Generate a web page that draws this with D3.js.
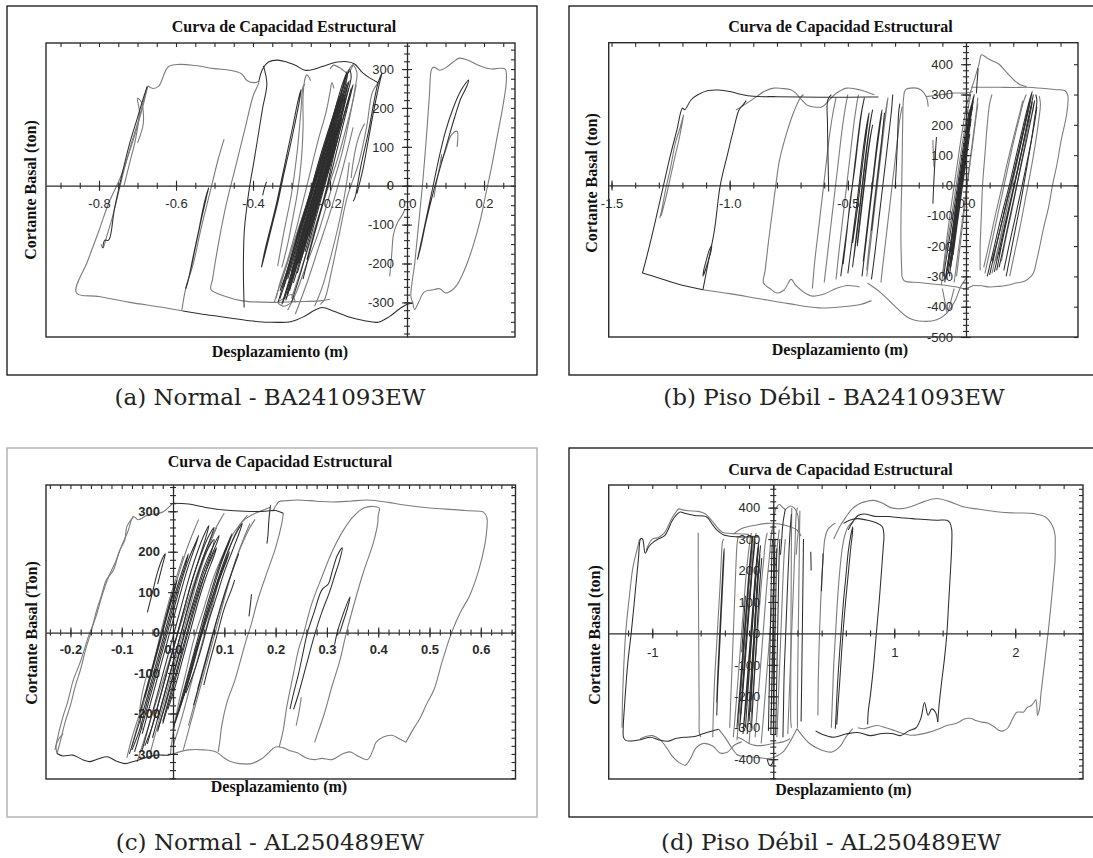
<!DOCTYPE html>
<html><head><meta charset="utf-8">
<script src="https://cdn.jsdelivr.net/npm/d3@7"></script>
<style>body{margin:0;background:#fff}svg{display:block}</style>
</head><body>
<svg id="c" width="1093" height="858"></svg>
<script>
// ---------------- text ----------------
const chartTitle = "Curva de Capacidad Estructural";
const xTitle = "Desplazamiento (m)";
const captions = ["(a) Normal - BA241093EW","(b) Piso Débil - BA241093EW","(c) Normal - AL250489EW","(d) Piso Débil - AL250489EW"];
const yTitles = ["Cortante Basal (ton)","Cortante Basal (ton)","Cortante Basal (Ton)","Cortante Basal (ton)"];

// ---------------- ticks ----------------
const aXMajor = [-0.8,-0.6,-0.4,-0.2,0,0.2];
const aXLabels = ["-0.8","-0.6","-0.4","-0.2","0.0","0.2"];
const aYMajor = [-300,-200,-100,0,100,200,300];
const aYLabels = ["-300","-200","-100","0","100","200","300"];
const bXMajor = [-1.5,-1.0,-0.5,0];
const bXLabels = ["-1.5","-1.0","-0.5","0.0"];
const bYMajor = [-500,-400,-300,-200,-100,0,100,200,300,400];
const bYLabels = ["-500","-400","-300","-200","-100","0","100","200","300","400"];
const cXMajor = [-0.2,-0.1,0,0.1,0.2,0.3,0.4,0.5,0.6];
const cXLabels = ["-0.2","-0.1","0.0","0.1","0.2","0.3","0.4","0.5","0.6"];
const cYMajor = [-300,-200,-100,0,100,200,300];
const cYLabels = ["-300","-200","-100","0","100","200","300"];
const dXMajor = [-1,1,2];
const dXLabels = ["-1","1","2"];
const dYMajor = [-400,-300,-200,-100,0,100,200,300,400];
const dYLabels = ["-400","-300","-200","-100","0","100","200","300","400"];

// ---------------- series: panel (a) ----------------
const aGray = [
 [[-0.673,257],[-0.69,190],[-0.715,105],[-0.745,20],[-0.775,-45],[-0.80,-115],[-0.83,-195],[-0.859,-275],[-0.80,-285],[-0.72,-300],[-0.64,-312],[-0.582,-322]],
 [[-0.673,257],[-0.66,250],[-0.645,256],[-0.62,306],[-0.59,312],[-0.55,309],[-0.50,301],[-0.46,297],[-0.43,288],[-0.415,270],[-0.395,265],[-0.385,268],[-0.40,230],[-0.42,150],[-0.445,50],[-0.47,-50],[-0.49,-150],[-0.505,-240],[-0.509,-267],[-0.473,-284],[-0.427,-296],[-0.355,-300],[-0.29,-298],[-0.227,-296],[-0.2,-292]],
 [[-0.075,265],[-0.09,240],[-0.105,150],[-0.125,60],[-0.155,-28],[-0.175,-120],[-0.195,-215],[-0.214,-292],[-0.225,-305]],
 [[-0.585,-322],[-0.575,-265],[-0.555,-200],[-0.535,-110],[-0.515,-30],[-0.505,10],[-0.49,70],[-0.475,120]],
 [[-0.675,255],[-0.685,215],[-0.70,160],[-0.72,95],[-0.735,40],[-0.75,-20],[-0.765,-80],[-0.78,-130],[-0.79,-160],[-0.795,-150]],
 [[-0.735,0],[-0.72,60],[-0.705,120],[-0.695,190],[-0.70,225],[-0.69,215],[-0.685,160],[-0.70,110]],
 [[-0.34,-290],[-0.33,-250],[-0.31,-190],[-0.29,-120],[-0.27,-40],[-0.25,40],[-0.23,120],[-0.21,190],[-0.2,240],[-0.195,265],[-0.19,250]],
 [[-0.325,-210],[-0.31,-150],[-0.3,-100],[-0.285,-20],[-0.275,60],[-0.27,150],[-0.27,230],[-0.265,275],[-0.26,285],[-0.25,270]],
 [[-0.31,-320],[-0.29,-280],[-0.26,-200],[-0.23,-120],[-0.2,-20],[-0.17,80],[-0.15,170],[-0.135,250],[-0.13,290],[-0.14,310],[-0.15,300]],
 [[-0.24,-310],[-0.22,-260],[-0.2,-190],[-0.18,-110],[-0.165,-40],[-0.155,20],[-0.15,60]],
 [[-0.29,-300],[-0.3,-280],[-0.32,-290],[-0.335,-300],[-0.32,-310],[-0.3,-300]],
 [[-0.2,300],[-0.19,310],[-0.17,300],[-0.155,290],[-0.145,300],[-0.14,313]],
 [[-0.336,-207],[-0.32,-120],[-0.30,-20],[-0.285,90],[-0.275,200],[-0.27,255],[-0.265,262]],
 [[-0.33,-260],[-0.3,-165],[-0.27,-75],[-0.24,15],[-0.21,105],[-0.18,195],[-0.16,260],[-0.155,285]],
 [[-0.3,-290],[-0.27,-200],[-0.24,-110],[-0.21,-20],[-0.18,70],[-0.155,160],[-0.14,220],[-0.132,260]],
 [[-0.345,-300],[-0.32,-225],[-0.29,-135],[-0.26,-45],[-0.235,40],[-0.21,120],[-0.19,185],[-0.18,220]],
 [[-0.29,-330],[-0.26,-250],[-0.23,-160],[-0.2,-70],[-0.175,15],[-0.155,90],[-0.14,150]],
 [[-0.045,-233],[-0.04,-180],[-0.035,-125],[-0.025,-95],[-0.012,-75],[-0.005,-60]],
 [[0.015,-300],[0.01,-285],[0.02,-200],[0.03,-100],[0.04,0],[0.05,120],[0.058,230],[0.064,300],[0.07,305],[0.085,297],[0.1,303],[0.12,318],[0.136,328],[0.16,322],[0.19,308],[0.22,300],[0.24,302],[0.255,300],[0.258,270],[0.25,210],[0.235,130],[0.22,50],[0.205,-20],[0.19,-90],[0.17,-160],[0.15,-215],[0.13,-255],[0.115,-270],[0.10,-276],[0.085,-265],[0.065,-268],[0.045,-273],[0.03,-300],[0.02,-318],[0.015,-300]],
 [[0.07,-30],[0.075,0],[0.085,50],[0.09,80],[0.088,60],[0.1,90],[0.115,130],[0.13,140],[0.13,100]],
 [[-0.145,20],[-0.14,60],[-0.13,110],[-0.12,140],[-0.11,160]]
];
const aDark = [
 [[-0.582,-322],[-0.52,-332],[-0.46,-340],[-0.41,-347],[-0.36,-351],[-0.30,-349],[-0.265,-335],[-0.24,-320],[-0.22,-313],[-0.19,-323],[-0.155,-336],[-0.11,-347],[-0.075,-351],[-0.045,-336],[-0.02,-317],[0.0,-305],[0.015,-302]],
 [[-0.385,268],[-0.375,300],[-0.36,318],[-0.336,323],[-0.31,317],[-0.29,310],[-0.265,297],[-0.24,300],[-0.21,310],[-0.18,318],[-0.155,319],[-0.136,313],[-0.115,290],[-0.095,276],[-0.075,265]],
 [[-0.373,308],[-0.364,262],[-0.375,200],[-0.386,133],[-0.398,60],[-0.409,-3],[-0.418,-70],[-0.423,-122],[-0.425,-220],[-0.423,-313]],
 [[-0.79,-160],[-0.785,-140],[-0.775,-140],[-0.76,-60],[-0.74,30],[-0.72,110],[-0.70,175],[-0.685,225],[-0.675,255]],
 [[-0.575,-265],[-0.57,-250],[-0.555,-180],[-0.54,-110],[-0.53,-60],[-0.52,-20],[-0.515,-5],[-0.52,-25],[-0.535,-90],[-0.55,-160],[-0.565,-230],[-0.575,-265]],
 [[-0.378,-210],[-0.37,-170],[-0.355,-110],[-0.34,-50],[-0.325,20],[-0.31,90],[-0.295,160],[-0.285,210],[-0.275,248],[-0.28,215],[-0.29,165],[-0.305,95],[-0.32,30],[-0.335,-40],[-0.35,-100],[-0.365,-160],[-0.378,-210]],
 [[-0.375,-25],[-0.37,-5],[-0.365,10]],
 [[-0.335,-300],[-0.3,-185],[-0.265,-70],[-0.23,45],[-0.195,160],[-0.165,260],[-0.155,295],[-0.17,255],[-0.2,150],[-0.235,35],[-0.27,-80],[-0.305,-195],[-0.33,-285]],
 [[-0.325,-305],[-0.29,-190],[-0.255,-75],[-0.22,40],[-0.19,140],[-0.17,210],[-0.165,235],[-0.18,195],[-0.21,100],[-0.245,-15],[-0.28,-130],[-0.31,-230]],
 [[-0.31,-280],[-0.28,-180],[-0.25,-80],[-0.22,20],[-0.19,120],[-0.16,220],[-0.145,280],[-0.15,300],[-0.16,260],[-0.185,170],[-0.215,70],[-0.245,-30],[-0.275,-130],[-0.3,-220]],
 [[-0.3,-240],[-0.27,-145],[-0.24,-45],[-0.21,55],[-0.185,140],[-0.175,170],[-0.19,130],[-0.22,35],[-0.25,-60],[-0.28,-160]],
 [[-0.29,-200],[-0.265,-120],[-0.235,-20],[-0.205,80],[-0.18,170],[-0.165,230],[-0.175,205],[-0.2,120],[-0.23,20],[-0.26,-80],[-0.285,-170]],
 [[-0.32,-260],[-0.295,-170],[-0.27,-90],[-0.245,-10],[-0.22,70],[-0.195,150],[-0.175,220],[-0.16,270],[-0.17,240],[-0.19,170],[-0.215,90],[-0.24,10],[-0.265,-70],[-0.29,-150],[-0.315,-240]],
 [[-0.28,-150],[-0.255,-70],[-0.23,10],[-0.21,80],[-0.19,150],[-0.2,110],[-0.225,30],[-0.25,-50]],
 [[-0.33,-290],[-0.31,-230],[-0.285,-150],[-0.26,-60],[-0.235,20],[-0.21,100],[-0.19,170],[-0.17,240],[-0.16,275],[-0.15,295]],
 [[-0.27,-240],[-0.25,-160],[-0.225,-70],[-0.2,20],[-0.18,100],[-0.16,180],[-0.145,240],[-0.14,260],[-0.15,230],[-0.17,160],[-0.19,80],[-0.21,-10],[-0.235,-100],[-0.26,-190]],
 [[-0.26,-120],[-0.24,-40],[-0.22,40],[-0.2,110],[-0.185,160],[-0.2,130],[-0.22,60],[-0.24,-20]],
 [[-0.33,-270],[-0.305,-200],[-0.28,-110],[-0.255,-30],[-0.23,60],[-0.205,140],[-0.185,200],[-0.175,230]],
 [[-0.3,-300],[-0.275,-220],[-0.25,-130],[-0.225,-40],[-0.2,50],[-0.175,140],[-0.155,210],[-0.145,250]],
 [[-0.315,-295],[-0.285,-200],[-0.255,-105],[-0.228,-15],[-0.2,75],[-0.175,165],[-0.158,240],[-0.15,270],[-0.16,240],[-0.18,160],[-0.205,70],[-0.232,-20],[-0.26,-110],[-0.29,-205],[-0.312,-280]],
 [[-0.305,-270],[-0.278,-180],[-0.25,-95],[-0.222,-5],[-0.196,85],[-0.172,175],[-0.16,225],[-0.168,195],[-0.19,115],[-0.215,30],[-0.243,-60],[-0.27,-150],[-0.3,-250]],
 [[-0.295,-250],[-0.268,-160],[-0.24,-70],[-0.213,20],[-0.187,110],[-0.165,195],[-0.152,250],[-0.158,225],[-0.178,150],[-0.2,70],[-0.228,-20],[-0.255,-110],[-0.283,-200]],
 [[-0.285,-225],[-0.26,-140],[-0.235,-55],[-0.21,30],[-0.19,100],[-0.17,170],[-0.178,140],[-0.2,70],[-0.222,-10],[-0.248,-100],[-0.272,-180]],
 [[-0.322,-300],[-0.296,-215],[-0.27,-125],[-0.243,-35],[-0.216,55],[-0.19,145],[-0.167,225],[-0.155,265],[-0.163,240],[-0.182,165],[-0.208,75],[-0.235,-15],[-0.262,-105],[-0.29,-200],[-0.318,-290]],
 [[-0.275,-190],[-0.252,-110],[-0.228,-30],[-0.205,50],[-0.182,130],[-0.17,175],[-0.18,150],[-0.2,80],[-0.222,0],[-0.245,-80],[-0.268,-160]],
 [[-0.31,-240],[-0.284,-155],[-0.258,-65],[-0.232,25],[-0.207,110],[-0.183,190],[-0.168,240],[-0.176,210],[-0.196,135],[-0.22,50],[-0.246,-40],[-0.272,-130],[-0.3,-225]],
 [[-0.265,-170],[-0.243,-95],[-0.22,-15],[-0.198,60],[-0.178,125],[-0.19,95],[-0.21,25],[-0.232,-50],[-0.255,-130]],
 [[-0.14,-40],[-0.135,-30],[-0.12,50],[-0.10,140],[-0.085,220],[-0.075,265],[-0.065,290],[-0.07,270],[-0.085,200],[-0.10,120],[-0.115,40],[-0.13,-20]],
 [[0.027,-190],[0.04,-130],[0.055,-60],[0.07,10],[0.085,80],[0.10,140],[0.12,200],[0.14,245],[0.16,272],[0.155,255],[0.14,225],[0.125,180],[0.11,130],[0.09,60],[0.07,-10],[0.05,-90],[0.035,-160],[0.027,-190]]
];

// ---------------- series: panel (b) ----------------
const bGray = [
 [[-1.113,-344],[-1.0,-357],[-0.886,-372],[-0.75,-390],[-0.622,-404],[-0.52,-400],[-0.447,-393],[-0.40,-380]],
 [[-0.974,249],[-0.93,270],[-0.886,293],[-0.85,312],[-0.813,321],[-0.78,320],[-0.739,315],[-0.715,300],[-0.695,282],[-0.672,265],[-0.652,260],[-0.608,260],[-0.575,285],[-0.549,304],[-0.505,321],[-0.447,315],[-0.388,299]],
 [[-1.296,-108],[-1.29,-90],[-1.27,-10],[-1.25,60],[-1.23,140],[-1.21,190],[-1.195,233],[-1.2,210],[-1.215,150],[-1.23,100],[-1.25,30],[-1.27,-40],[-1.29,-100]],
 [[-0.688,300],[-0.70,290],[-0.73,240],[-0.76,170],[-0.79,80],[-0.805,0],[-0.82,-90],[-0.835,-180],[-0.85,-280],[-0.857,-322],[-0.83,-340],[-0.80,-355],[-0.77,-345],[-0.74,-310],[-0.72,-330],[-0.69,-350],[-0.65,-365],[-0.60,-358],[-0.55,-340],[-0.50,-330],[-0.45,-335]],
 [[-0.6,-320],[-0.585,-220],[-0.57,-120],[-0.555,-20],[-0.54,80],[-0.525,180],[-0.51,260],[-0.5,300]],
 [[-0.65,-340],[-0.64,-250],[-0.625,-150],[-0.61,-50],[-0.595,50],[-0.58,150],[-0.565,230],[-0.55,290]],
 [[-0.271,-300],[-0.275,-200],[-0.275,-100],[-0.272,0],[-0.27,100],[-0.268,200],[-0.264,290],[-0.256,315],[-0.22,322],[-0.19,315],[-0.168,293],[-0.16,260]],
 [[-0.271,-300],[-0.26,-315],[-0.2,-320],[-0.14,-325],[-0.08,-330],[-0.04,-335],[0.0,-340],[0.03,-330]],
 [[-0.17,293],[-0.1,300],[-0.05,305],[0.0,305],[0.03,310]],
 [[0.0,260],[0.02,310],[0.04,360],[0.055,400],[0.066,431],[0.09,420],[0.12,408],[0.14,400],[0.17,375],[0.2,350],[0.23,332],[0.256,326]],
 [[0.022,324],[0.08,324],[0.139,324],[0.2,323],[0.256,324],[0.33,320],[0.38,316],[0.417,313],[0.43,300],[0.432,287],[0.425,230],[0.403,150],[0.385,70],[0.366,0],[0.35,-70],[0.33,-135],[0.315,-190],[0.30,-245],[0.285,-290],[0.275,-300],[0.25,-315],[0.212,-322],[0.17,-330],[0.139,-333],[0.1,-335],[0.066,-331],[0.03,-330]],
 [[-0.417,-322],[-0.359,-355],[-0.30,-399],[-0.242,-437],[-0.183,-448],[-0.124,-443],[-0.081,-421],[-0.044,-377],[-0.022,-333],[0.007,-300]],
 [[-0.1,-340],[-0.09,-380],[-0.08,-420],[-0.07,-400],[-0.06,-370],[-0.05,-340]],
 [[-0.55,-310],[-0.535,-200],[-0.52,-100],[-0.505,0],[-0.49,100],[-0.475,200],[-0.46,280],[-0.455,300]],
 [[-0.42,-300],[-0.405,-200],[-0.39,-100],[-0.375,0],[-0.36,100],[-0.345,200],[-0.335,260],[-0.33,290],[-0.335,270],[-0.35,190],[-0.365,100],[-0.38,0],[-0.395,-100],[-0.41,-200],[-0.42,-280]],
 [[-0.36,-320],[-0.35,-250],[-0.335,-150],[-0.32,-50],[-0.305,50],[-0.29,150],[-0.28,220],[-0.27,260]],
 [[-0.1,-300],[-0.085,-200],[-0.065,-80],[-0.05,0],[-0.035,80],[-0.02,160],[-0.005,230],[0.005,280]],
 [[-0.04,-300],[-0.025,-200],[-0.01,-100],[0.005,0],[0.02,100],[0.035,190],[0.045,250],[0.05,290]],
 [[-0.105,-330],[-0.088,-240],[-0.07,-145],[-0.052,-55],[-0.036,30],[-0.02,115],[-0.004,195],[0.01,260],[0.02,300]],
 [[-0.05,-320],[-0.034,-225],[-0.018,-130],[-0.003,-40],[0.012,45],[0.027,130],[0.04,210],[0.05,270]],
 [[-0.14,150],[-0.138,100],[-0.135,60]],
 [[0.11,-290],[0.14,-190],[0.165,-100],[0.195,0],[0.22,90],[0.245,180],[0.265,250],[0.275,290],[0.27,270],[0.25,200],[0.225,110],[0.2,20],[0.175,-70],[0.15,-160],[0.125,-250]],
 [[0.15,-250],[0.17,-170],[0.195,-80],[0.215,0],[0.235,80],[0.255,160],[0.27,220]],
 [[0.08,-290],[0.1,-220],[0.125,-130],[0.15,-40],[0.175,50],[0.2,140],[0.225,220],[0.245,280],[0.255,300]],
 [[0.06,-280],[0.06,-200],[0.065,-100],[0.07,0],[0.08,100],[0.09,200],[0.1,270],[0.11,300]],
 [[0.075,-270],[0.1,-185],[0.125,-95],[0.152,-5],[0.178,85],[0.205,170],[0.228,240],[0.24,280]],
 [[0.185,-300],[0.205,-225],[0.228,-140],[0.25,-50],[0.272,40],[0.292,130],[0.307,210],[0.315,270],[0.31,295]]
];
const bDark = [
 [[-1.369,-289],[-1.34,-201],[-1.31,-102],[-1.281,-3],[-1.252,96],[-1.223,184],[-1.20,255],[-1.19,250],[-1.164,282],[-1.135,299],[-1.091,313],[-1.047,315],[-1.0,310],[-0.95,300],[-0.9,294],[-0.8,293],[-0.7,292],[-0.6,291],[-0.5,291],[-0.42,292],[-0.37,292]],
 [[-1.369,-289],[-1.3,-305],[-1.22,-325],[-1.113,-344]],
 [[-1.113,-344],[-1.09,-250],[-1.065,-150],[-1.04,0],[-1.01,100],[-0.985,180],[-0.96,250],[-0.944,265],[-0.93,280]],
 [[-1.113,-300],[-1.11,-280],[-1.10,-250],[-1.085,-210],[-1.076,-200],[-1.08,-220],[-1.095,-260],[-1.11,-295]],
 [[-0.581,-20],[-0.584,100],[-0.586,200],[-0.585,282],[-0.57,300]],
 [[-0.53,-300],[-0.51,-180],[-0.49,-60],[-0.475,40],[-0.46,140],[-0.445,230],[-0.43,290],[-0.44,250],[-0.455,160],[-0.47,60],[-0.49,-50],[-0.505,-160],[-0.52,-260]],
 [[-0.50,-290],[-0.48,-170],[-0.465,-80],[-0.45,20],[-0.435,120],[-0.42,200],[-0.41,240],[-0.415,210],[-0.43,120],[-0.445,20],[-0.46,-80],[-0.48,-190]],
 [[-0.46,-200],[-0.445,-100],[-0.43,0],[-0.415,100],[-0.40,180],[-0.395,200],[-0.405,160],[-0.42,80],[-0.435,-20],[-0.45,-120],[-0.46,-190]],
 [[-0.48,-270],[-0.465,-170],[-0.45,-70],[-0.435,30],[-0.42,130],[-0.405,210],[-0.395,250],[-0.4,230],[-0.415,150],[-0.43,50],[-0.445,-50],[-0.46,-150],[-0.475,-240]],
 [[-0.44,-300],[-0.425,-200],[-0.41,-100],[-0.395,0],[-0.38,100],[-0.365,190],[-0.355,250],[-0.36,230],[-0.375,150],[-0.39,50],[-0.405,-50],[-0.42,-150],[-0.435,-250]],
 [[-0.40,-310],[-0.385,-220],[-0.37,-120],[-0.355,-20],[-0.34,80],[-0.325,180],[-0.315,250],[-0.31,300]],
 [[-0.40,-150],[-0.39,-80],[-0.375,20],[-0.36,120],[-0.35,200],[-0.345,240]],
 [[-0.30,-10],[-0.295,60],[-0.29,150],[-0.285,240],[-0.28,270]],
 [[-0.14,-60],[-0.135,30],[-0.13,100],[-0.125,160]],
 [[-0.09,-320],[-0.07,-220],[-0.05,-120],[-0.035,-40],[-0.02,40],[-0.005,120],[0.01,200],[0.025,270],[0.035,300],[0.03,280],[0.015,210],[0.0,130],[-0.015,50],[-0.03,-30],[-0.045,-110],[-0.065,-210],[-0.085,-300]],
 [[-0.07,-300],[-0.055,-200],[-0.04,-100],[-0.025,0],[-0.01,90],[0.005,170],[0.02,240],[0.03,280],[0.025,260],[0.01,190],[-0.005,110],[-0.02,20],[-0.035,-80],[-0.05,-180],[-0.065,-270]],
 [[-0.06,-250],[-0.045,-160],[-0.03,-60],[-0.015,30],[0.0,110],[0.012,180],[0.02,220],[0.015,200],[0.0,130],[-0.015,50],[-0.03,-40],[-0.045,-140]],
 [[-0.08,-280],[-0.06,-170],[-0.045,-90],[-0.03,0],[-0.015,70],[0.0,140],[0.015,210],[0.028,260]],
 [[-0.085,-310],[-0.068,-210],[-0.052,-115],[-0.036,-25],[-0.02,60],[-0.005,140],[0.01,215],[0.022,265],[0.018,245],[0.004,175],[-0.011,95],[-0.027,10],[-0.043,-80],[-0.06,-175],[-0.078,-280]],
 [[-0.075,-290],[-0.058,-195],[-0.042,-100],[-0.027,-15],[-0.012,70],[0.003,150],[0.018,225],[0.03,275],[0.026,255],[0.012,185],[-0.003,105],[-0.018,20],[-0.034,-70],[-0.05,-165],[-0.068,-265]],
 [[-0.065,-270],[-0.05,-180],[-0.035,-90],[-0.02,-5],[-0.005,80],[0.01,160],[0.022,220],[0.018,200],[0.004,130],[-0.011,50],[-0.026,-35],[-0.042,-125],[-0.058,-220]],
 [[-0.055,-230],[-0.04,-145],[-0.025,-60],[-0.01,25],[0.004,105],[0.016,170],[0.012,150],[-0.002,80],[-0.017,0],[-0.032,-85],[-0.047,-170]],
 [[-0.095,-300],[-0.078,-215],[-0.06,-125],[-0.043,-40],[-0.027,45],[-0.012,125],[0.003,200],[0.015,250]],
 [[0.044,304],[0.047,340],[0.05,370],[0.051,387]],
 [[0.09,-300],[0.12,-200],[0.15,-100],[0.18,-10],[0.21,90],[0.24,190],[0.265,270],[0.28,310],[0.275,290],[0.255,220],[0.23,130],[0.2,30],[0.17,-60],[0.14,-160],[0.11,-250]],
 [[0.13,-280],[0.155,-180],[0.18,-90],[0.205,0],[0.23,90],[0.25,170],[0.27,240],[0.285,300],[0.28,280],[0.26,210],[0.24,130],[0.215,40],[0.19,-50],[0.165,-140],[0.14,-230]],
 [[0.17,-300],[0.19,-220],[0.21,-140],[0.235,-40],[0.255,50],[0.275,140],[0.29,220],[0.3,280],[0.295,300]],
 [[0.1,-295],[0.128,-200],[0.155,-110],[0.183,-20],[0.21,70],[0.236,160],[0.258,235],[0.27,280],[0.266,260],[0.247,195],[0.222,110],[0.195,20],[0.168,-70],[0.14,-160],[0.113,-255]],
 [[0.12,-285],[0.147,-190],[0.173,-100],[0.2,-10],[0.226,80],[0.25,165],[0.27,235],[0.28,275],[0.276,255],[0.258,190],[0.234,105],[0.208,15],[0.182,-75],[0.155,-165],[0.13,-250]],
 [[0.14,-270],[0.165,-180],[0.19,-90],[0.215,0],[0.24,90],[0.262,170],[0.28,240],[0.29,280],[0.286,260],[0.27,200],[0.248,120],[0.223,30],[0.198,-60],[0.173,-150],[0.15,-235]],
 [[0.16,-280],[0.183,-195],[0.207,-110],[0.232,-20],[0.255,65],[0.277,150],[0.293,220],[0.3,260]]
];

// ---------------- series: panel (c) ----------------
const cGray = [
 [[-0.226,-299],[-0.22,-270],[-0.21,-220],[-0.2,-180],[-0.19,-130],[-0.18,-90],[-0.17,-40],[-0.16,0],[-0.15,50],[-0.14,90],[-0.13,130],[-0.116,155],[-0.105,200],[-0.094,229],[-0.09,262],[-0.077,287]],
 [[-0.23,-290],[-0.225,-260],[-0.215,-210],[-0.205,-170],[-0.195,-120],[-0.18,-70],[-0.165,-10],[-0.15,40],[-0.14,85],[-0.125,140],[-0.112,175],[-0.1,215],[-0.088,250],[-0.077,287],[-0.068,279],[-0.05,290],[-0.032,294],[-0.019,299],[0.0,320]],
 [[-0.226,-299],[-0.228,-280],[-0.222,-262],[-0.214,-250]],
 [[0.0,-300],[0.03,-290],[0.06,-290],[0.084,-295],[0.1,-310],[0.112,-319],[0.13,-324],[0.153,-324],[0.175,-310],[0.2,-283],[0.215,-285],[0.23,-293],[0.242,-297],[0.26,-310],[0.276,-314],[0.29,-311],[0.31,-314],[0.33,-300],[0.345,-295],[0.36,-305],[0.379,-314],[0.39,-290],[0.396,-271],[0.41,-258],[0.427,-254],[0.44,-262],[0.454,-271]],
 [[0.454,-271],[0.47,-235],[0.481,-213],[0.495,-175],[0.509,-140],[0.525,-70],[0.543,0],[0.56,50],[0.577,88],[0.595,150],[0.608,218],[0.612,260],[0.612,284],[0.605,298],[0.598,300]],
 [[0.598,300],[0.57,302],[0.55,304],[0.5,308],[0.447,316],[0.42,322],[0.379,328],[0.345,325],[0.31,323],[0.28,325],[0.242,328],[0.22,326],[0.207,324],[0.2,313],[0.195,300]],
 [[0.215,295],[0.212,270],[0.2,210],[0.18,137],[0.165,80],[0.153,23],[0.14,-30],[0.132,-67],[0.12,-120],[0.105,-173],[0.095,-230],[0.091,-271],[0.088,-295]],
 [[0.207,-283],[0.215,-240],[0.221,-189],[0.235,-100],[0.245,-40],[0.255,0],[0.27,70],[0.29,137],[0.31,200],[0.331,251],[0.35,285],[0.372,308],[0.39,312],[0.402,308],[0.4,290],[0.399,270],[0.39,220],[0.372,153],[0.355,80],[0.338,0],[0.325,-70],[0.31,-132],[0.295,-200],[0.283,-245],[0.276,-271]],
 [[0.24,-230],[0.245,-200],[0.25,-160]],
 [[-0.07,-320],[-0.055,-260],[-0.04,-200],[-0.02,-120],[0.0,-40],[0.02,40],[0.04,120],[0.06,190],[0.08,250],[0.095,285],[0.1,295]],
 [[0.0,-280],[0.015,-220],[0.03,-150],[0.045,-80],[0.06,-10],[0.075,60],[0.09,130],[0.105,190],[0.12,240],[0.135,275],[0.145,290]],
 [[-0.09,-310],[-0.08,-260],[-0.065,-200],[-0.05,-140],[-0.035,-60],[-0.02,20],[-0.005,90],[0.01,150],[0.02,190]],
 [[0.03,-230],[0.045,-160],[0.06,-90],[0.075,-20],[0.09,50],[0.105,110],[0.12,170],[0.135,220],[0.15,260],[0.16,280]],
 [[-0.06,-240],[-0.065,-200],[-0.06,-150],[-0.05,-100]],
 [[-0.005,-300],[0.0,-250],[0.01,-180],[0.025,-100],[0.04,-20],[0.06,60],[0.08,140],[0.1,200],[0.12,250],[0.14,280],[0.16,295],[0.18,305],[0.19,310]],
 [[-0.08,-280],[-0.065,-210],[-0.05,-140],[-0.035,-70],[-0.02,0],[-0.005,70],[0.01,140],[0.025,200],[0.04,250],[0.05,280]],
 [[0.02,-290],[0.035,-220],[0.05,-150],[0.065,-80],[0.08,-10],[0.095,60],[0.11,130],[0.125,190],[0.14,240],[0.15,270]],
 [[-0.045,-300],[-0.03,-230],[-0.015,-160],[0.0,-90],[0.015,-20],[0.03,50],[0.045,120],[0.06,180],[0.075,230],[0.085,260]]
];
const cDark = [
 [[0.0,320],[0.03,318],[0.07,308],[0.1,303],[0.14,300],[0.18,300],[0.2,302],[0.215,295]],
 [[-0.226,-299],[-0.215,-305],[-0.195,-303],[-0.175,-315],[-0.162,-319],[-0.145,-312],[-0.128,-307],[-0.11,-318],[-0.094,-324],[-0.075,-318],[-0.055,-310],[-0.032,-303],[-0.01,-303],[0.0,-300]],
 [[0.19,315],[0.187,280],[0.185,240],[0.183,220]],
 [[0.153,95],[0.15,60],[0.148,40]],
 [[0.228,-189],[0.235,-150],[0.245,-100],[0.255,-40],[0.262,0],[0.275,50],[0.29,105],[0.303,121],[0.31,150],[0.32,190],[0.33,210],[0.325,180],[0.315,140],[0.305,100],[0.29,50],[0.275,-10],[0.26,-80],[0.245,-150],[0.235,-190]],
 [[0.315,-30],[0.32,0],[0.33,40],[0.345,88],[0.34,60],[0.33,20],[0.325,0]],
 [[-0.085,-300],[-0.07,-240],[-0.055,-180],[-0.04,-110],[-0.025,-40],[-0.01,30],[0.005,100],[0.02,160],[0.03,195],[0.025,170],[0.01,110],[-0.005,40],[-0.02,-30],[-0.035,-100],[-0.05,-170],[-0.065,-240],[-0.08,-290]],
 [[-0.06,-290],[-0.045,-220],[-0.03,-150],[-0.015,-80],[0.0,-10],[0.015,60],[0.03,130],[0.045,190],[0.06,240],[0.07,265],[0.065,240],[0.05,180],[0.035,120],[0.02,50],[0.005,-20],[-0.01,-90],[-0.025,-160],[-0.04,-230],[-0.055,-280]],
 [[-0.04,-260],[-0.025,-190],[-0.01,-120],[0.005,-50],[0.02,20],[0.035,90],[0.05,150],[0.065,200],[0.08,230],[0.075,200],[0.06,150],[0.045,90],[0.03,30],[0.015,-40],[0.0,-110],[-0.015,-180],[-0.03,-240]],
 [[-0.02,-220],[-0.005,-150],[0.01,-80],[0.025,-10],[0.04,60],[0.055,120],[0.07,170],[0.085,210],[0.08,190],[0.065,140],[0.05,80],[0.035,10],[0.02,-60],[0.005,-130],[-0.01,-190]],
 [[0.01,-200],[0.025,-130],[0.04,-60],[0.055,0],[0.07,60],[0.085,120],[0.1,170],[0.11,200],[0.105,180],[0.09,130],[0.075,70],[0.06,10],[0.045,-50],[0.03,-120],[0.015,-180]],
 [[0.02,-160],[0.035,-100],[0.05,-30],[0.065,40],[0.08,100],[0.095,160],[0.11,210],[0.125,250],[0.135,270],[0.13,250],[0.115,200],[0.1,150],[0.085,90],[0.07,30],[0.055,-40],[0.04,-100],[0.025,-150]],
 [[-0.05,50],[-0.04,100],[-0.03,150],[-0.02,185],[-0.015,195],[-0.02,170],[-0.03,120]],
 [[0.06,-130],[0.07,-80],[0.085,-10],[0.1,60],[0.115,110],[0.12,130]],
 [[-0.075,-295],[-0.06,-230],[-0.045,-160],[-0.03,-90],[-0.015,-20],[0.0,50],[0.015,120],[0.03,180],[0.045,225],[0.05,240],[0.045,220],[0.03,165],[0.015,100],[0.0,30],[-0.015,-40],[-0.03,-110],[-0.045,-180],[-0.06,-250]],
 [[-0.05,-275],[-0.035,-205],[-0.02,-135],[-0.005,-65],[0.01,5],[0.025,75],[0.04,140],[0.055,195],[0.07,240],[0.08,260],[0.075,240],[0.06,190],[0.045,130],[0.03,65],[0.015,-5],[0.0,-75],[-0.015,-145],[-0.03,-215]],
 [[-0.03,-245],[-0.015,-175],[0.0,-105],[0.015,-35],[0.03,35],[0.045,100],[0.06,160],[0.075,205],[0.09,240],[0.085,220],[0.07,175],[0.055,115],[0.04,50],[0.025,-20],[0.01,-90],[-0.005,-160],[-0.02,-225]],
 [[0.0,-240],[0.015,-170],[0.03,-100],[0.045,-30],[0.06,40],[0.075,105],[0.09,165],[0.105,215],[0.115,245],[0.11,225],[0.095,175],[0.08,115],[0.065,50],[0.05,-20],[0.035,-90],[0.02,-160],[0.005,-220]],
 [[0.04,-180],[0.055,-110],[0.07,-40],[0.085,30],[0.1,95],[0.115,150],[0.128,195],[0.122,175],[0.108,125],[0.093,65],[0.078,0],[0.063,-70],[0.048,-140]],
 [[-0.065,-200],[-0.05,-130],[-0.035,-60],[-0.02,10],[-0.005,80],[0.008,130],[0.004,110],[-0.01,50],[-0.025,-20],[-0.04,-90],[-0.055,-160]]
];

// ---------------- series: panel (d) ----------------
const dGray = [
 [[-1.25,-300],[-1.245,-200],[-1.235,-100],[-1.22,0],[-1.2,80],[-1.18,150],[-1.16,210],[-1.13,260],[-1.105,300]],
 [[-1.05,265],[-1.0,300],[-0.95,305],[-0.9,320],[-0.87,340],[-0.84,365],[-0.813,381],[-0.78,396],[-0.75,393],[-0.70,390],[-0.62,388],[-0.56,380],[-0.50,355],[-0.467,339],[-0.42,322],[-0.35,318],[-0.294,317],[-0.2,315]],
 [[-1.1,-335],[-1.0,-325],[-0.93,-340],[-0.87,-370],[-0.841,-388],[-0.78,-410],[-0.726,-419],[-0.68,-395],[-0.64,-365],[-0.58,-350],[-0.5,-358],[-0.44,-380],[-0.38,-378],[-0.32,-355],[-0.26,-345]],
 [[-0.5,-330],[-0.495,-250],[-0.485,-150],[-0.47,-50],[-0.455,50],[-0.44,150],[-0.43,230],[-0.42,290],[-0.41,300]],
 [[-0.62,320],[-0.62,200],[-0.617,50],[-0.615,-100],[-0.612,-250],[-0.611,-314],[-0.6,-330]],
 [[-0.33,-330],[-0.31,-240],[-0.29,-140],[-0.27,-40],[-0.25,60],[-0.23,160],[-0.21,240],[-0.19,300],[-0.18,320]],
 [[-0.15,-330],[-0.13,-230],[-0.11,-130],[-0.09,-30],[-0.07,70],[-0.05,170],[-0.03,250],[-0.02,300],[-0.01,330]],
 [[-0.1,-350],[-0.08,-260],[-0.06,-160],[-0.04,-60],[-0.02,40],[0.0,140],[0.02,230],[0.04,300],[0.05,330]],
 [[0.03,-330],[0.04,-230],[0.05,-130],[0.06,-30],[0.07,70],[0.08,170],[0.09,250],[0.1,300]],
 [[0.12,-320],[0.13,-220],[0.14,-120],[0.15,-20],[0.16,80],[0.17,180],[0.18,280],[0.19,380],[0.2,400]],
 [[-0.3,-340],[-0.28,-250],[-0.26,-150],[-0.24,-50],[-0.22,50],[-0.2,150],[-0.18,230],[-0.16,290],[-0.14,320]],
 [[-0.2,-350],[-0.18,-250],[-0.16,-150],[-0.14,-50],[-0.12,50],[-0.1,150],[-0.08,230],[-0.065,290],[-0.05,320]],
 [[-0.36,-300],[-0.35,-200],[-0.34,-100],[-0.33,0],[-0.32,100],[-0.31,200],[-0.3,280],[-0.29,310]],
 [[-0.323,318],[-0.25,335],[-0.15,344],[-0.05,350],[0.05,348],[0.138,339],[0.196,329],[0.23,310]],
 [[-0.3,-330],[-0.265,-335],[-0.2,-350],[-0.15,-356],[-0.08,-356],[0.0,-350],[0.08,-345],[0.14,-335]],
 [[-0.02,300],[0.0,350],[0.02,395],[0.05,410],[0.08,400],[0.1,395],[0.14,405],[0.17,400],[0.2,380],[0.21,340],[0.2,300],[0.19,250]],
 [[0.153,400],[0.15,300],[0.148,150],[0.146,0],[0.145,-150],[0.145,-280],[0.15,-300]],
 [[0.22,390],[0.215,250],[0.21,100],[0.205,-50],[0.2,-200],[0.2,-300]],
 [[0.369,-261],[0.372,-150],[0.38,-30],[0.39,80],[0.405,200],[0.42,280],[0.426,300],[0.45,330],[0.49,345],[0.513,350]],
 [[0.48,-300],[0.49,-200],[0.5,-100],[0.515,0],[0.53,100],[0.55,200],[0.57,270],[0.59,310],[0.62,340],[0.66,355]],
 [[0.5,300],[0.55,340],[0.6,370],[0.65,395],[0.715,413],[0.77,420],[0.83,423],[0.9,415],[0.97,400],[1.06,397],[1.15,405],[1.25,420],[1.349,429],[1.45,420],[1.579,402],[1.7,395],[1.867,386],[2.0,383],[2.156,381],[2.25,370],[2.31,340],[2.329,313],[2.33,280],[2.329,234],[2.31,150],[2.29,70],[2.271,0],[2.25,-70],[2.23,-135],[2.213,-190],[2.2,-240],[2.184,-261],[2.18,-240],[2.17,-210],[2.156,-219],[2.13,-230],[2.1,-235],[2.07,-250],[2.04,-250],[2.012,-251],[1.98,-270],[1.94,-300],[1.9,-310],[1.867,-309],[1.82,-295],[1.77,-285],[1.723,-282],[1.68,-278],[1.63,-270],[1.579,-272],[1.52,-285],[1.435,-293],[1.36,-305],[1.291,-314],[1.2,-322],[1.147,-324],[1.07,-318],[1.003,-309],[0.93,-300],[0.859,-293],[0.8,-298],[0.75,-303],[0.7,-300]],
 [[-0.45,-305],[-0.4,-330],[-0.35,-360],[-0.3,-385],[-0.265,-390],[-0.2,-392],[-0.12,-395],[-0.035,-398],[0.03,-390],[0.081,-377],[0.13,-350],[0.196,-303]],
 [[0.196,-303],[0.25,-330],[0.3,-350],[0.369,-366],[0.43,-375],[0.484,-377],[0.55,-360],[0.6,-330],[0.657,-303]]
];
const dDark = [
 [[-1.231,-240],[-1.202,-93],[-1.173,4],[-1.144,118],[-1.115,234],[-1.095,302],[-1.08,300],[-1.058,255],[-1.03,275],[-0.986,292],[-0.95,300],[-0.9,310],[-0.87,329],[-0.84,355],[-0.813,371],[-0.769,386],[-0.726,381],[-0.65,375],[-0.553,371],[-0.5,345],[-0.467,329],[-0.409,313],[-0.294,307],[-0.207,307],[-0.121,307]],
 [[-1.231,-240],[-1.24,-300],[-1.238,-330],[-1.22,-340],[-1.187,-342],[-1.1,-338],[-1.014,-330],[-0.95,-338],[-0.87,-343],[-0.813,-335],[-0.72,-330],[-0.65,-328],[-0.582,-319],[-0.5,-310],[-0.45,-305]],
 [[-0.467,-261],[-0.46,-180],[-0.45,-100],[-0.44,-20],[-0.43,60],[-0.42,140],[-0.41,220],[-0.405,270],[-0.41,250],[-0.42,180],[-0.43,100],[-0.44,20],[-0.45,-60],[-0.46,-140],[-0.467,-220]],
 [[-0.3,-300],[-0.28,-200],[-0.26,-100],[-0.24,0],[-0.22,100],[-0.2,200],[-0.18,280],[-0.17,310],[-0.175,280],[-0.195,200],[-0.215,100],[-0.235,0],[-0.255,-100],[-0.275,-200],[-0.295,-280]],
 [[-0.25,-320],[-0.23,-220],[-0.21,-120],[-0.19,-20],[-0.17,80],[-0.15,180],[-0.13,260],[-0.12,290],[-0.125,260],[-0.145,180],[-0.165,80],[-0.185,-20],[-0.205,-120],[-0.225,-220],[-0.245,-300]],
 [[-0.2,-280],[-0.185,-180],[-0.17,-80],[-0.155,20],[-0.14,120],[-0.125,200],[-0.11,250],[-0.115,220],[-0.13,140],[-0.145,40],[-0.16,-60],[-0.175,-160],[-0.19,-250]],
 [[-0.28,-310],[-0.26,-210],[-0.24,-110],[-0.22,-10],[-0.2,90],[-0.18,190],[-0.16,270],[-0.15,300],[-0.155,275],[-0.175,195],[-0.195,95],[-0.215,-5],[-0.235,-105],[-0.255,-205],[-0.275,-290]],
 [[-0.23,-300],[-0.212,-200],[-0.194,-100],[-0.176,0],[-0.158,100],[-0.14,200],[-0.125,270],[-0.13,245],[-0.148,170],[-0.166,70],[-0.184,-30],[-0.202,-130],[-0.22,-230]],
 [[-0.215,-320],[-0.198,-220],[-0.18,-120],[-0.162,-20],[-0.145,80],[-0.128,180],[-0.112,250],[-0.105,280]],
 [[-0.18,-300],[-0.165,-200],[-0.15,-100],[-0.135,0],[-0.12,100],[-0.105,190],[-0.095,240],[-0.1,215],[-0.115,140],[-0.13,40],[-0.145,-60],[-0.16,-160],[-0.175,-260]],
 [[-0.27,-260],[-0.252,-170],[-0.234,-80],[-0.216,10],[-0.198,100],[-0.18,180],[-0.185,160],[-0.203,80],[-0.221,-10],[-0.239,-100],[-0.257,-190]],
 [[-0.02,-320],[-0.015,-220],[-0.01,-120],[-0.005,-20],[0.0,80],[0.005,180],[0.01,260],[0.015,300],[0.012,270],[0.007,190],[0.002,90],[-0.003,-10],[-0.008,-110],[-0.013,-210],[-0.018,-300]],
 [[-0.04,-310],[-0.035,-210],[-0.03,-110],[-0.025,-10],[-0.02,90],[-0.015,190],[-0.01,270],[-0.005,300]],
 [[0.02,-320],[0.025,-220],[0.03,-120],[0.035,-20],[0.04,80],[0.045,180],[0.05,260],[0.055,300]],
 [[0.0,-300],[0.005,-200],[0.01,-100],[0.015,0],[0.02,100],[0.025,200],[0.03,270]],
 [[-0.26,-60],[-0.25,0],[-0.24,60],[-0.23,120]],
 [[0.08,-330],[0.085,-230],[0.09,-130],[0.1,-30],[0.11,70],[0.12,170],[0.13,260],[0.14,330],[0.15,380]],
 [[0.25,300],[0.245,150],[0.24,0],[0.235,-150],[0.23,-280]],
 [[0.06,250],[0.07,300],[0.08,350],[0.1,395]],
 [[0.31,260],[0.312,230],[0.313,200]],
 [[0.398,134],[0.403,180],[0.41,230],[0.412,255]],
 [[0.513,-303],[0.52,-250],[0.53,-170],[0.545,-80],[0.56,0],[0.58,100],[0.6,180],[0.62,260],[0.64,310],[0.657,339],[0.655,320],[0.64,270],[0.62,190],[0.6,110],[0.58,20],[0.565,-60],[0.55,-150],[0.535,-230],[0.525,-290]],
 [[0.58,350],[0.65,362],[0.7,365],[0.78,360],[0.85,352],[0.9,340],[0.915,310],[0.91,280],[0.895,200],[0.875,100],[0.852,0],[0.83,-100],[0.805,-190],[0.785,-250],[0.78,-290]],
 [[0.62,330],[0.7,375],[0.75,380],[0.85,372],[0.95,372],[1.05,368],[1.15,365],[1.25,362],[1.35,360],[1.435,360],[1.46,352],[1.475,330],[1.475,280],[1.465,200],[1.45,100],[1.435,0],[1.415,-80],[1.39,-160],[1.37,-230],[1.36,-282]],
 [[1.36,-282],[1.34,-250],[1.31,-240],[1.28,-260],[1.25,-220],[1.22,-270],[1.18,-300],[1.12,-310],[1.05,-325],[0.98,-318],[0.9,-318],[0.8,-325],[0.7,-315],[0.6,-320],[0.5,-330],[0.4,-320],[0.35,-310]],
 [[-0.05,-400],[-0.03,-420],[-0.01,-415],[0.0,-400]]
];

// ---------------- layout ----------------
const panels = [
 {frame:[7,6,537,375], frameStroke:"#111", plot:[46,43,515,337], xDom:[-0.9377,0.2805], yDom:[-389,367],
  gray:aGray, dark:aDark, xMajor:aXMajor, xLabels:aXLabels, yMajor:aYMajor, yLabels:aYLabels,
  xMinor:d3.range(-18,6).map(i=>i*0.05), yMinor:d3.range(-19,19).map(i=>i*20), right:d3.range(-15,15).map(i=>i*25),
  title:[284,32], ylab:[30,190], xlab:[280,357], cap:[270,405], bold:false, xPad:8},
 {frame:[569,6,1100,375], frameStroke:"#111", plot:[608.7,42.7,1078,337], xDom:[-1.512,0.474], yDom:[-500,471],
  gray:bGray, dark:bDark, xMajor:bXMajor, xLabels:bXLabels, yMajor:bYMajor, yLabels:bYLabels,
  xMinor:d3.range(-15,5).map(i=>i*0.1), yMinor:d3.range(-25,24).map(i=>i*20), right:d3.range(-5,5).map(i=>i*100),
  title:[840.5,32], ylab:[591,183], xlab:[840,355], cap:[834,405], bold:false, xPad:8},
 {frame:[7,448,537,817], frameStroke:"#b4b4b4", plot:[46,485,515.5,779], xDom:[-0.2476,0.6676], yDom:[-362,365],
  gray:cGray, dark:cDark, xMajor:cXMajor, xLabels:cXLabels, yMajor:cYMajor, yLabels:cYLabels,
  xMinor:d3.range(-12,34).map(i=>i*0.02), yMinor:d3.range(-18,19).map(i=>i*20), right:d3.range(-18,19).map(i=>i*20),
  title:[280,467], ylab:[31.4,633], xlab:[279,792], cap:[270,850], bold:true, xPad:7},
 {frame:[569,448,1100,817], frameStroke:"#111", plot:[608.7,485,1083,779], xDom:[-1.36,2.56], yDom:[-463,472],
  gray:dGray, dark:dDark, xMajor:dXMajor, xLabels:dXLabels, yMajor:dYMajor, yLabels:dYLabels,
  xMinor:d3.range(-6,13).map(i=>i*0.2), yMinor:d3.range(-23,24).map(i=>i*20), right:d3.range(-23,24).map(i=>i*20),
  title:[840.5,475], ylab:[594.8,635], xlab:[843.5,795], cap:[831,850], bold:false, xPad:9}
];

const svg = d3.select("#c");
const defs = svg.append("defs");

panels.forEach((p,k)=>{
  const g = svg.append("g");
  const [fx0,fy0,fx1,fy1] = p.frame;
  g.append("rect").attr("x",fx0).attr("y",fy0).attr("width",fx1-fx0).attr("height",fy1-fy0)
    .attr("fill","#fff").attr("stroke",p.frameStroke).attr("stroke-width",k===2?1.5:1.3);
  const [px0,py0,px1,py1] = p.plot;
  const x = d3.scaleLinear().domain(p.xDom).range([px0,px1]);
  const y = d3.scaleLinear().domain(p.yDom).range([py1,py0]);
  defs.append("clipPath").attr("id","clip"+k).append("rect")
    .attr("x",px0).attr("y",py0).attr("width",px1-px0).attr("height",py1-py0);

  const line = d3.line().x(d=>x(d[0])).y(d=>y(d[1])).curve(d3.curveCatmullRom.alpha(0.5));
  const lg = g.append("g").attr("clip-path","url(#clip"+k+")").attr("fill","none");
  lg.selectAll("path.g").data(p.gray).join("path").attr("class","g").attr("d",line)
    .attr("stroke","#7c7c7c").attr("stroke-width",1.1);
  lg.selectAll("path.d").data(p.dark).join("path").attr("class","d").attr("d",line)
    .attr("stroke","#2e2e2e").attr("stroke-width",1.05);

  g.append("rect").attr("x",px0).attr("y",py0).attr("width",px1-px0).attr("height",py1-py0)
    .attr("fill","none").attr("stroke","#2a2a2a").attr("stroke-width",1.4);

  const tickFont = "'Liberation Sans', Arial, sans-serif";
  const styleAxis = sel => { sel.attr("color","#2a2a2a").attr("font-size",13).attr("font-family",tickFont)
     .attr("font-weight",p.bold?"bold":"normal"); sel.selectAll("line").attr("stroke-width",1.1); };

  // top edge ticks
  g.append("g").attr("transform",`translate(0,${py0})`)
    .call(d3.axisBottom(x).tickValues(p.xMinor).tickSize(4).tickFormat(""))
    .call(s=>s.select(".domain").remove()).call(styleAxis);
  // right edge ticks
  g.append("g").attr("transform",`translate(${px1},0)`)
    .call(d3.axisLeft(y).tickValues(p.right).tickSize(4).tickFormat(""))
    .call(s=>s.select(".domain").remove()).call(styleAxis);

  // horizontal axis through y=0
  const y0 = y(0), x0 = x(0);
  g.append("g").attr("transform",`translate(0,${y0})`)
    .call(d3.axisTop(x).tickValues(p.xMinor).tickSize(3).tickFormat(""))
    .call(s=>s.select(".domain").remove()).call(styleAxis);
  g.append("g").attr("transform",`translate(0,${y0})`)
    .call(d3.axisBottom(x).tickValues(p.xMinor).tickSize(3).tickFormat(""))
    .call(s=>s.select(".domain").remove()).call(styleAxis);
  g.append("g").attr("transform",`translate(0,${y0})`)
    .call(d3.axisTop(x).tickValues(p.xMajor).tickSize(5).tickFormat(""))
    .call(s=>s.select(".domain").remove()).call(styleAxis);
  g.append("g").attr("transform",`translate(0,${y0})`)
    .call(d3.axisBottom(x).tickValues(p.xMajor).tickSize(5).tickSizeOuter(0).tickPadding(p.xPad)
      .tickFormat((d,i)=>p.xLabels[i]))
    .call(styleAxis).call(s=>s.select(".domain").attr("stroke-width",1.3));

  // vertical axis through x=0
  g.append("g").attr("transform",`translate(${x0},0)`)
    .call(d3.axisRight(y).tickValues(p.yMinor).tickSize(3).tickFormat(""))
    .call(s=>s.select(".domain").remove()).call(styleAxis);
  g.append("g").attr("transform",`translate(${x0},0)`)
    .call(d3.axisLeft(y).tickValues(p.yMinor).tickSize(3).tickFormat(""))
    .call(s=>s.select(".domain").remove()).call(styleAxis);
  g.append("g").attr("transform",`translate(${x0},0)`)
    .call(d3.axisRight(y).tickValues(p.yMajor).tickSize(5).tickFormat(""))
    .call(s=>s.select(".domain").remove()).call(styleAxis);
  g.append("g").attr("transform",`translate(${x0},0)`)
    .call(d3.axisLeft(y).tickValues(p.yMajor).tickSize(5).tickSizeOuter(0).tickPadding(8)
      .tickFormat((d,i)=>p.yLabels[i]))
    .call(styleAxis).call(s=>s.select(".domain").attr("stroke-width",1.3));

  const serif = "'Liberation Serif', 'Times New Roman', serif";
  g.append("text").attr("x",p.title[0]).attr("y",p.title[1]).attr("text-anchor","middle")
    .attr("font-family",serif).attr("font-weight","bold").attr("font-size",16).attr("fill","#111").text(chartTitle);
  g.append("text").attr("x",p.xlab[0]).attr("y",p.xlab[1]).attr("text-anchor","middle")
    .attr("font-family",serif).attr("font-weight","bold").attr("font-size",16).attr("fill","#111").text(xTitle);
  g.append("text").attr("transform",`translate(${p.ylab[0]},${p.ylab[1]}) rotate(-90)`).attr("text-anchor","middle")
    .attr("dy","0.35em").attr("font-family",serif).attr("font-weight","bold").attr("font-size",16).attr("fill","#111").text(yTitles[k]);
  svg.append("text").attr("x",p.cap[0]).attr("y",p.cap[1]).attr("text-anchor","middle")
    .attr("font-family","'DejaVu Serif', serif").attr("font-size",23).attr("fill","#222").text(captions[k]);
});
</script>
</body></html>
